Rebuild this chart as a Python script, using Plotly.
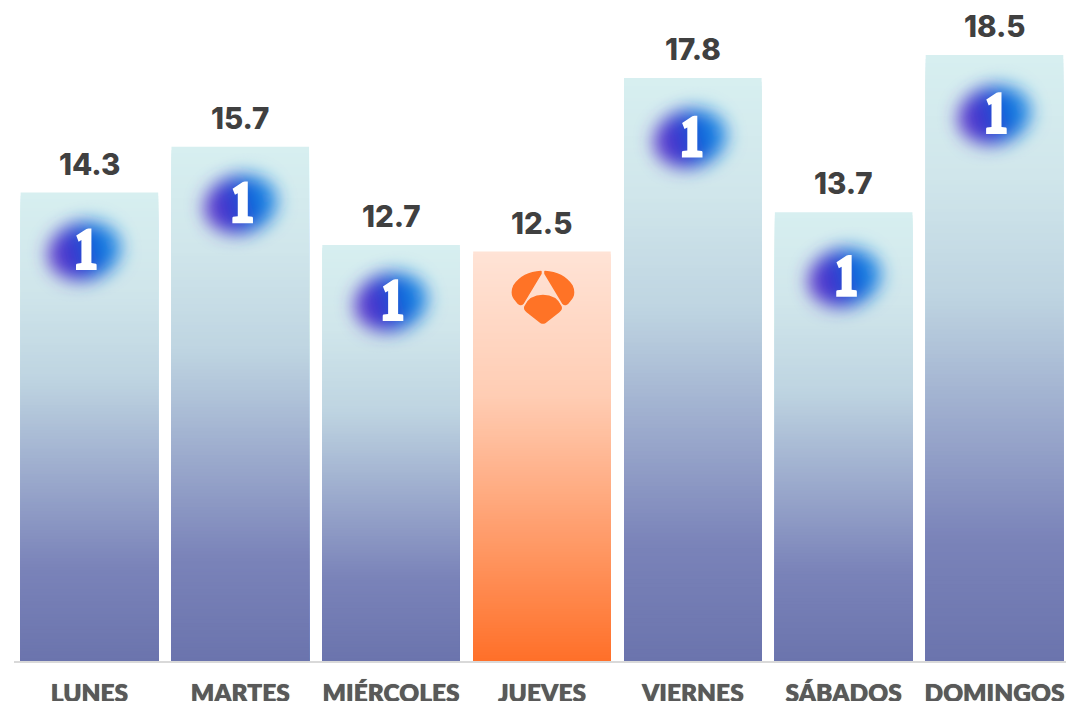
import base64
import plotly.graph_objects as go

days = ["LUNES", "MARTES", "MIÉRCOLES", "JUEVES", "VIERNES", "SÁBADOS", "DOMINGOS"]
values = [14.3, 15.7, 12.7, 12.5, 17.8, 13.7, 18.5]
winners = ["la1", "la1", "la1", "a3", "la1", "la1", "la1"]

# Where each channel logo sits, in pixels from the top centre of its bar
logo_dx = [-4, 1.5, 1, 1, -1.5, 2, 1]
logo_dy = [56.5, 55.5, 55, 46, 58.5, 63.5, 58]

blue_stops = [(0, (215, 239, 240)), (.2, (208, 230, 235)), (.4, (190, 212, 225)), (.6, (156, 171, 205)),
              (.8, (122, 131, 185)), (1, (107, 116, 173))]
orange_stops = [(0, (255, 227, 214)), (.35, (255, 205, 180)), (.7, (255, 155, 105)), (1, (255, 112, 41))]
SEGMENTS = 150
PX_PER_X = 150.83
PX_PER_Y = 32.76


def mix(stops, t):
    for (a, ca), (b, cb) in zip(stops, stops[1:]):
        if t <= b:
            f = (t - a) / (b - a)
            return "rgb(%d,%d,%d)" % tuple(round(p + (q - p) * f) for p, q in zip(ca, cb))
    return "rgb(%d,%d,%d)" % stops[-1][1]


la1_svg = """<svg xmlns="http://www.w3.org/2000/svg" width="560" height="480" viewBox="-5 -5 140 120">
<defs><linearGradient id="g" x1="0" x2="1" y1="0" y2="0"><stop offset="0.12" stop-color="#5a36cc"/>
<stop offset="0.42" stop-color="#2a3cd0"/><stop offset="0.68" stop-color="#0e6ddc"/><stop offset="1" stop-color="#2a90e6"/></linearGradient>
<filter id="b" filterUnits="userSpaceOnUse" x="-5" y="-5" width="140" height="120"><feGaussianBlur stdDeviation="9"/></filter></defs>
<ellipse cx="64" cy="57" rx="37" ry="29" fill="url(#g)" filter="url(#b)" transform="rotate(-14 64 57)"/>
<path d="M55.8 41.5 L66 34.8 Q67 34.3 68 34.3 L71 34.3 L71 69 L75.5 69.6 Q76.2 69.8 76.2 71 L76.2 76 L55.6 76 L55.6 71 Q55.6 69.8 56.4 69.6 L61 69 L61 46 L58.2 47.6 Z"
 fill="#fff"/></svg>"""

a3_svg = """<svg xmlns="http://www.w3.org/2000/svg" width="320" height="280" viewBox="0 0 64 56">
<g fill="#ff7326" stroke="#ff7326" stroke-width="1.5" stroke-linejoin="round">
<path d="M30 2 Q12 3 3 16 Q-1 25 5 31 Q9 37 12 34 L30 4 Z"/>
<path d="M34 2 Q52 3 61 16 Q65 25 59 31 Q55 37 52 34 L34 4 Z"/>
<path d="M32 26 Q45 26 50 37 Q51 40 48 42 L34 53 Q32 54 30 53 L16 42 Q13 40 14 37 Q19 26 32 26 Z"/>
</g></svg>"""


def uri(svg):
    return "data:image/svg+xml;base64," + base64.b64encode(svg.encode()).decode()


fig = go.Figure()
# Painted from tallest to shortest: each layer covers the one before, leaving no seams.
for i in range(SEGMENTS):
    t = (i + .5) / SEGMENTS  # 0 at the top of the bar
    fig.add_trace(go.Bar(
        x=days,
        y=[v * (1 - i / SEGMENTS) for v in values],
        marker=dict(color=[mix(orange_stops if w == "a3" else blue_stops, t) for w in winners], line_width=0),
        hoverinfo="skip", showlegend=False,
    ))

images = []
for i, (v, w) in enumerate(zip(values, winners)):
    src, wpx, hpx = (la1_svg, 140, 120) if w == "la1" else (a3_svg, 64, 56)
    images.append(dict(source=uri(src), xref="x", yref="y",
                       x=i + logo_dx[i] / PX_PER_X, y=v - logo_dy[i] / PX_PER_Y,
                       sizex=wpx / PX_PER_X, sizey=hpx / PX_PER_Y, xanchor="center", yanchor="middle",
                       sizing="stretch", layer="above"))

annotations = [dict(x=d, y=v, text=f"{v:.1f}", showarrow=False, yanchor="bottom", yshift=9,
                    font=dict(family="Inter", size=29.5, color="#404040", weight=800))
               for d, v in zip(days, values)]

fig.update_layout(
    width=1066, height=701, autosize=False,
    margin=dict(l=14, r=0, t=0, b=40, autoexpand=False),
    paper_bgcolor="white", plot_bgcolor="white",
    barmode="overlay", bargap=0.088,
    images=images, annotations=annotations,
    xaxis=dict(type="category", categoryorder="array", categoryarray=days, range=[-0.5, 6.474],
               showgrid=False, ticks="", showline=True, linecolor="#d9d9d9", linewidth=2,
               ticklabelstandoff=10,
               tickfont=dict(family="Lato", size=24.5, color="#595959", weight=800,
                             shadow="0 0 0.7px #595959"), tickangle=0),
    yaxis=dict(range=[0, 20.18], visible=False, showgrid=False, zeroline=False),
)
fig.write_html("out.html", config=dict(displayModeBar=False),
               post_script="document.body.style.margin='0';document.documentElement.style.overflow='hidden';")
